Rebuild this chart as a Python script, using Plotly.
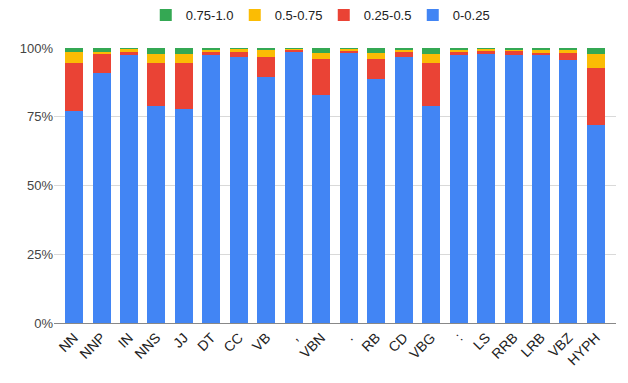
import plotly.graph_objects as go

# POS tags and share of tokens per score bucket (percent)
tags = ["NN", "NNP", "IN", "NNS", "JJ", "DT", "CC", "VB", ",", "VBN",
        ".", "RB", "CD", "VBG", ":", "LS", "RRB", "LRB", "VBZ", "HYPH"]

b_0_025 = [77.0, 91.0, 97.8, 79.0, 78.0, 97.8, 96.7, 89.6, 98.4, 82.8,
           98.4, 88.7, 96.6, 79.0, 97.6, 97.7, 97.6, 97.6, 95.8, 72.0]
b_025_05 = [17.5, 7.0, 0.6, 15.5, 16.5, 0.6, 1.7, 7.0, 0.9, 13.1,
            0.7, 7.2, 1.8, 15.5, 1.0, 1.5, 1.2, 0.7, 2.5, 20.7]
b_05_075 = [4.0, 0.7, 1.3, 3.3, 3.3, 1.2, 1.3, 2.7, 0.5, 2.4,
            0.6, 2.2, 1.2, 3.2, 1.0, 0.5, 0.8, 1.3, 1.3, 5.0]
b_075_1 = [1.5, 1.3, 0.3, 2.2, 2.2, 0.4, 0.3, 0.7, 0.2, 1.7,
           0.3, 1.9, 0.4, 2.3, 0.4, 0.3, 0.4, 0.4, 0.4, 2.3]

series = [
    ("0-0.25", b_0_025, "#4285f4"),
    ("0.25-0.5", b_025_05, "#ea4335"),
    ("0.5-0.75", b_05_075, "#fbbc04"),
    ("0.75-1.0", b_075_1, "#34a853"),
]

fig = go.Figure()
for name, vals, color in series:
    fig.add_trace(go.Bar(x=tags, y=vals, name=name, marker_color=color,
                         marker_line_width=0))

# page body has an 8px margin, so figure is a bit smaller than the window
fig.update_layout(
    barmode="stack",
    bargap=0.345,
    width=620, height=375,
    margin=dict(l=46, r=12, t=40, b=60),
    paper_bgcolor="white", plot_bgcolor="white",
    font=dict(family="Liberation Sans, Arial", size=13, color="#222"),
    legend=dict(orientation="h", traceorder="reversed", x=0.48, xanchor="center",
                y=0.981, yanchor="middle", yref="container", itemwidth=30,
                entrywidth=44, font=dict(size=13, color="#222")),
)
fig.update_xaxes(tickangle=-45, range=[-0.73, 19.73], showgrid=False,
                 showline=True, linecolor="#888", linewidth=1, automargin=False,
                 ticks="", tickfont=dict(size=14, color="#222"))
fig.update_yaxes(range=[0, 100], tickvals=[0, 25, 50, 75, 100],
                 ticktext=["0%", "25%", "50%", "75%", "100%"], automargin=False,
                 gridcolor="#d9d9d9", zeroline=False,
                 tickfont=dict(size=13, color="#444"))

fig.write_html("out.html")
